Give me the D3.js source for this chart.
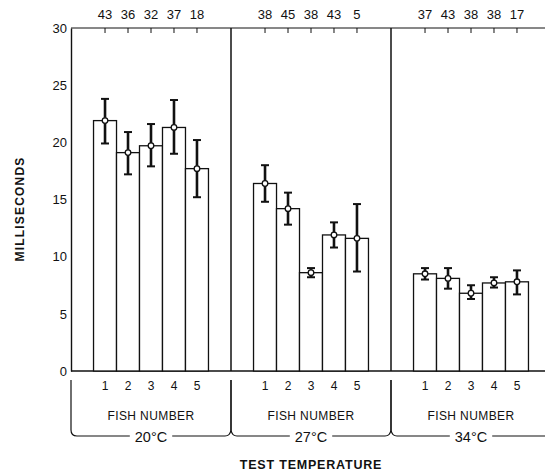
<!DOCTYPE html>
<html>
<head>
<meta charset="utf-8">
<script src="https://cdn.jsdelivr.net/npm/d3@7"></script>
<style>
  html, body { margin: 0; padding: 0; background: #fff; }
  svg { display: block; }
  text { font-family: "Liberation Sans", Arial, sans-serif; fill: #111; }
</style>
</head>
<body>
<svg id="chart" width="545" height="471"></svg>
<script>
// ---- data ----
const temperatures = ["20°C", "27°C", "34°C"];
const fishNumbers = [1, 2, 3, 4, 5];
const means20 = [21.9, 19.1, 19.7, 21.3, 17.7];
const upper20 = [23.8, 20.9, 21.6, 23.7, 20.2];
const lower20 = [19.9, 17.2, 17.9, 19.0, 15.2];
const counts20 = [43, 36, 32, 37, 18];
const means27 = [16.4, 14.2, 8.6, 11.9, 11.6];
const upper27 = [18.0, 15.6, 9.0, 13.0, 14.6];
const lower27 = [14.8, 12.8, 8.2, 10.8, 8.7];
const counts27 = [38, 45, 38, 43, 5];
const means34 = [8.5, 8.1, 6.8, 7.7, 7.8];
const upper34 = [9.0, 9.0, 7.5, 8.2, 8.8];
const lower34 = [8.0, 7.2, 6.3, 7.3, 6.7];
const counts34 = [37, 43, 38, 38, 17];
const yTicks = [0, 5, 10, 15, 20, 25, 30];

const groups = [
  { temp: temperatures[0], means: means20, upper: upper20, lower: lower20, counts: counts20 },
  { temp: temperatures[1], means: means27, upper: upper27, lower: lower27, counts: counts27 },
  { temp: temperatures[2], means: means34, upper: upper34, lower: lower34, counts: counts34 }
];

// ---- layout ----
const svg = d3.select("#chart");
const mLeft = 71, mTop = 28, mBottom = 371, mRight = 551;

const y = d3.scaleLinear().domain([0, 30]).range([mBottom, mTop]);
const xg = d3.scaleBand().domain(temperatures).range([mLeft, mRight]).padding(0);
const xf = d3.scaleBand().domain(fishNumbers).range([0, xg.bandwidth()]).paddingInner(0).paddingOuter(0.98);

const ink = "#111";

// frame: top line, bottom line
svg.append("line").attr("x1", mLeft).attr("x2", 545).attr("y1", mTop).attr("y2", mTop)
  .attr("stroke", ink).attr("stroke-width", 1);
svg.append("line").attr("x1", mLeft).attr("x2", 545).attr("y1", mBottom).attr("y2", mBottom)
  .attr("stroke", ink).attr("stroke-width", 1.6);

// y axis
const yAxis = d3.axisLeft(y).tickValues(yTicks).tickSize(0).tickPadding(4);
const yg = svg.append("g").attr("transform", `translate(${mLeft},0)`).call(yAxis);
yg.select(".domain").attr("stroke", ink).attr("stroke-width", 1.4);
yg.selectAll("text").style("font-size", "13px").style("font-family", "'Liberation Sans', Arial, sans-serif").attr("fill", ink);

// group dividers
temperatures.slice(1).forEach(t => {
  svg.append("line").attr("x1", xg(t)).attr("x2", xg(t)).attr("y1", mTop).attr("y2", mBottom)
    .attr("stroke", ink).attr("stroke-width", 1.5);
});

groups.forEach(g => {
  const gx = xg(g.temp);
  const gg = svg.append("g").attr("transform", `translate(${gx},0)`);

  // top ticks and counts
  const topAxis = d3.axisTop(xf).tickSize(-5).tickPadding(9).tickFormat((d, i) => g.counts[i]);
  const ta = gg.append("g").attr("transform", `translate(0,${mTop})`).call(topAxis);
  ta.select(".domain").remove();
  ta.selectAll("line").attr("stroke", ink).attr("stroke-width", 1);
  ta.selectAll("text").style("font-size", "13px").style("font-family", "'Liberation Sans', Arial, sans-serif").attr("fill", ink);

  // bars
  gg.selectAll("rect.bar").data(fishNumbers).join("rect")
    .attr("class", "bar")
    .attr("x", d => xf(d))
    .attr("width", xf.bandwidth())
    .attr("y", (d, i) => y(g.means[i]))
    .attr("height", (d, i) => y(0) - y(g.means[i]))
    .attr("fill", "#fff").attr("stroke", ink).attr("stroke-width", 1.3);

  // error bars
  const cx = d => xf(d) + xf.bandwidth() / 2;
  gg.selectAll("line.err").data(fishNumbers).join("line")
    .attr("class", "err")
    .attr("x1", cx).attr("x2", cx)
    .attr("y1", (d, i) => y(g.upper[i])).attr("y2", (d, i) => y(g.lower[i]))
    .attr("stroke", ink).attr("stroke-width", 2.6);
  ["upper", "lower"].forEach(k => {
    gg.selectAll("line.cap" + k).data(fishNumbers).join("line")
      .attr("class", "cap" + k)
      .attr("x1", d => cx(d) - 4).attr("x2", d => cx(d) + 4)
      .attr("y1", (d, i) => y(g[k][i])).attr("y2", (d, i) => y(g[k][i]))
      .attr("stroke", ink).attr("stroke-width", 2);
  });
  gg.selectAll("circle.mean").data(fishNumbers).join("circle")
    .attr("class", "mean")
    .attr("cx", cx).attr("cy", (d, i) => y(g.means[i])).attr("r", 2.8)
    .attr("fill", "#fff").attr("stroke", ink).attr("stroke-width", 1.3);

  // fish number labels
  gg.selectAll("text.fish").data(fishNumbers).join("text")
    .attr("class", "fish")
    .attr("x", cx).attr("y", 390)
    .attr("text-anchor", "middle")
    .style("font-size", "12px")
    .text(d => d);

  const w = xg.bandwidth();
  gg.append("text").attr("x", w / 2).attr("y", 420).attr("text-anchor", "middle")
    .style("font-size", "12px").style("letter-spacing", "0.4px").text("FISH NUMBER");

  const tt = gg.append("text").attr("x", w / 2).attr("y", 442).attr("text-anchor", "middle")
    .style("font-size", "14.5px").text(g.temp);
  const tw = tt.node().getComputedTextLength();

  // bracket
  const yTopB = 380, yBot = 436, r = 6;
  const gap0 = w / 2 - tw / 2 - 5, gap1 = w / 2 + tw / 2 + 5;
  const isFirst = g.temp === temperatures[0];
  const p = d3.path();
  p.moveTo(0, yTopB);
  p.lineTo(0, yBot - r);
  if (isFirst) p.quadraticCurveTo(0, yBot, r, yBot);
  else p.quadraticCurveTo(1, yBot, r, yBot);
  p.lineTo(gap0, yBot);
  p.moveTo(gap1, yBot);
  p.lineTo(w - r, yBot);
  p.quadraticCurveTo(w - 1, yBot, w, yBot - r);
  p.lineTo(w, yTopB);
  gg.append("path").attr("d", p.toString()).attr("fill", "none")
    .attr("stroke", ink).attr("stroke-width", 1.2);
});

// axis titles
svg.append("text").attr("transform", `translate(24,209) rotate(-90)`)
  .attr("text-anchor", "middle").style("font-size", "12px").style("font-weight", "bold")
  .style("letter-spacing", "1.2px").text("MILLISECONDS");
svg.append("text").attr("x", 311).attr("y", 469).attr("text-anchor", "middle")
  .style("font-size", "12.5px").style("font-weight", "bold").style("letter-spacing", "0.8px")
  .text("TEST TEMPERATURE");
</script>
</body>
</html>
